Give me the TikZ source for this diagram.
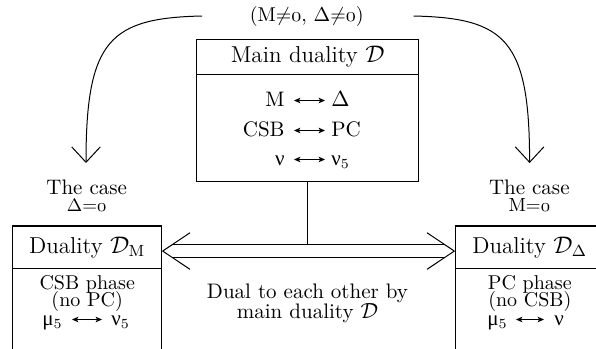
\documentclass[tikz,border=0pt]{standalone}
\usepackage{fontspec}
\newfontfamily\grk{Liberation Serif}
\usetikzlibrary{arrows.meta,calc}
\newcommand\ozero{{\usefont{OML}{cmm}{m}{it}0}}
\newcommand\gnu{{\grk ν}}
\newcommand\gmu{{\grk μ}}
\begin{document}
\begin{tikzpicture}[x=0.5pt,y=-0.5pt,
  hbox/.style={draw, line width=0.6pt, inner sep=0pt, outer sep=0pt, font=\fontsize{11.5}{13}\selectfont},
  smallbox/.style={hbox, minimum width=74.5pt, minimum height=21.35pt},
  bodybox/.style={draw, line width=0.6pt, inner sep=0pt, outer sep=0pt, anchor=north},
  txt/.style={anchor=base, inner sep=0pt, font=\fontsize{10.5}{12}\selectfont},
  txtb/.style={anchor=base, inner sep=0pt, font=\fontsize{10}{12}\selectfont},
  txtl/.style={txt, anchor=base east},
  txtr/.style={txt, anchor=base west},
  txts/.style={anchor=base, inner sep=0pt, font=\fontsize{9.5}{11}\selectfont},
  curve/.style={line width=0.5pt, -{Straight Barb[length=7.7pt,width=14.3pt,line width=0.5pt]}},
  dual/.style={line width=0.45pt, {Stealth[length=3.2pt,width=2.8pt,inset=0.8pt]}-{Stealth[length=3.2pt,width=2.8pt,inset=0.8pt]}},
  thinline/.style={line width=0.5pt}]
\useasboundingbox (0,0) rectangle (596,349);

% main box
\node[hbox, minimum width=111pt, minimum height=17.7pt] (mh) at (307.7,57) {Main duality $\mathcal{D}$};
\node[bodybox, minimum width=111pt, minimum height=53.5pt] (mb) at (mh.south) {};
\node[txtl] (r1a) at (285,106) {M};
\node[txtr] (r1b) at (331,106) {$\Delta$};
\node[txtl] (r2a) at (285,136) {CSB};
\node[txtr] (r2b) at (331,136) {PC};
\node[txtl] (r3a) at (285,165) {\gnu};
\node[txtr] (r3b) at (331,165) {\gnu$_5$};
\draw[dual] ($(r1a.base east)+(9,-5.5)$) -- ($(r1b.base west)+(-6,-5.5)$);
\draw[dual] ($(r2a.base east)+(9,-5.5)$) -- ($(r2b.base west)+(-6,-5.5)$);
\draw[dual] ($(r3a.base east)+(9,-5.5)$) -- ($(r3b.base west)+(-6,-5.5)$);

% top label
\node[txtb] (top) at (306.7,21) {(M$\neq$\ozero, $\Delta$$\neq$\ozero)};

% left box
\node[smallbox] (hl) at (87.2,247.35) {Duality $\mathcal{D}_{\mathrm{M}}$};
\node[bodybox, minimum width=74.5pt, minimum height=52pt] (bl) at (hl.south) {};
\node[txtb] (l1) at (87.2,289) {CSB phase};
\node[txtb] (l2) at (87.2,306) {(no PC)};
\node[txtl] (l3a) at (63,325) {\gmu$_5$};
\node[txtr] (l3b) at (111,325) {\gnu$_5$};
\draw[dual] ($(l3a.base east)+(9,-5.5)$) -- ($(l3b.base west)+(-9,-5.5)$);

% right box
\node[smallbox] (hr) at (529.8,247.35) {Duality $\mathcal{D}_{\Delta}$};
\node[bodybox, minimum width=74.5pt, minimum height=52pt] (br) at (hr.south) {};
\node[txtb] (q1) at (529.8,289) {PC phase};
\node[txtb] (q2) at (529.8,306) {(no CSB)};
\node[txtl] (q3a) at (508,325) {\gmu$_5$};
\node[txtr] (q3b) at (554,325) {\gnu};
\draw[dual] ($(q3a.base east)+(8,-5.5)$) -- ($(q3b.base west)+(-10,-5.5)$);

% case labels
\node[txt] (cl) at (86.7,194) {The case};
\node[txts] (cl2) at (86.7,211) {$\Delta$=\ozero};
\node[txt] (cr) at (529.3,194) {The case};
\node[txts] (cr2) at (529.3,211) {M=\ozero};

% middle text
\node[txt] (m1) at (307.5,298) {Dual to each other by};
\node[txt] (m2) at (307.5,318) {main duality $\mathcal{D}$};

% curved arrows
\coordinate (ls) at (202,16);
\coordinate (le) at (86,163);
\coordinate (rs) at (413.6,16);
\coordinate (re) at (529.6,163);
\draw[curve] (ls) .. controls (110,18) and (86,40) .. (le);
\draw[curve] (rs) .. controls (505.6,18) and (529.6,40) .. (re);

% double arrow
\coordinate (aL) at ($(hl.east)+(1,3.7)$);
\coordinate (aR) at ($(hr.west)+(-1,3.7)$);
\coordinate (dtop) at ($(aL)+(0,-6.7)$);
\draw[thinline] ($(aL)+(10,-6.7)$) -- ($(aR)+(-10,-6.7)$);
\draw[thinline] ($(aL)+(10,6.7)$) -- ($(aR)+(-10,6.7)$);
\draw[thinline] ($(aL)+(27.3,-18.3)$) -- (aL) -- ($(aL)+(27.3,18.3)$);
\draw[thinline] ($(aR)+(-27.3,-18.3)$) -- (aR) -- ($(aR)+(-27.3,18.3)$);
\draw[thinline] (mb.south) -- (mb.south |- dtop);
\end{tikzpicture}
\end{document}
